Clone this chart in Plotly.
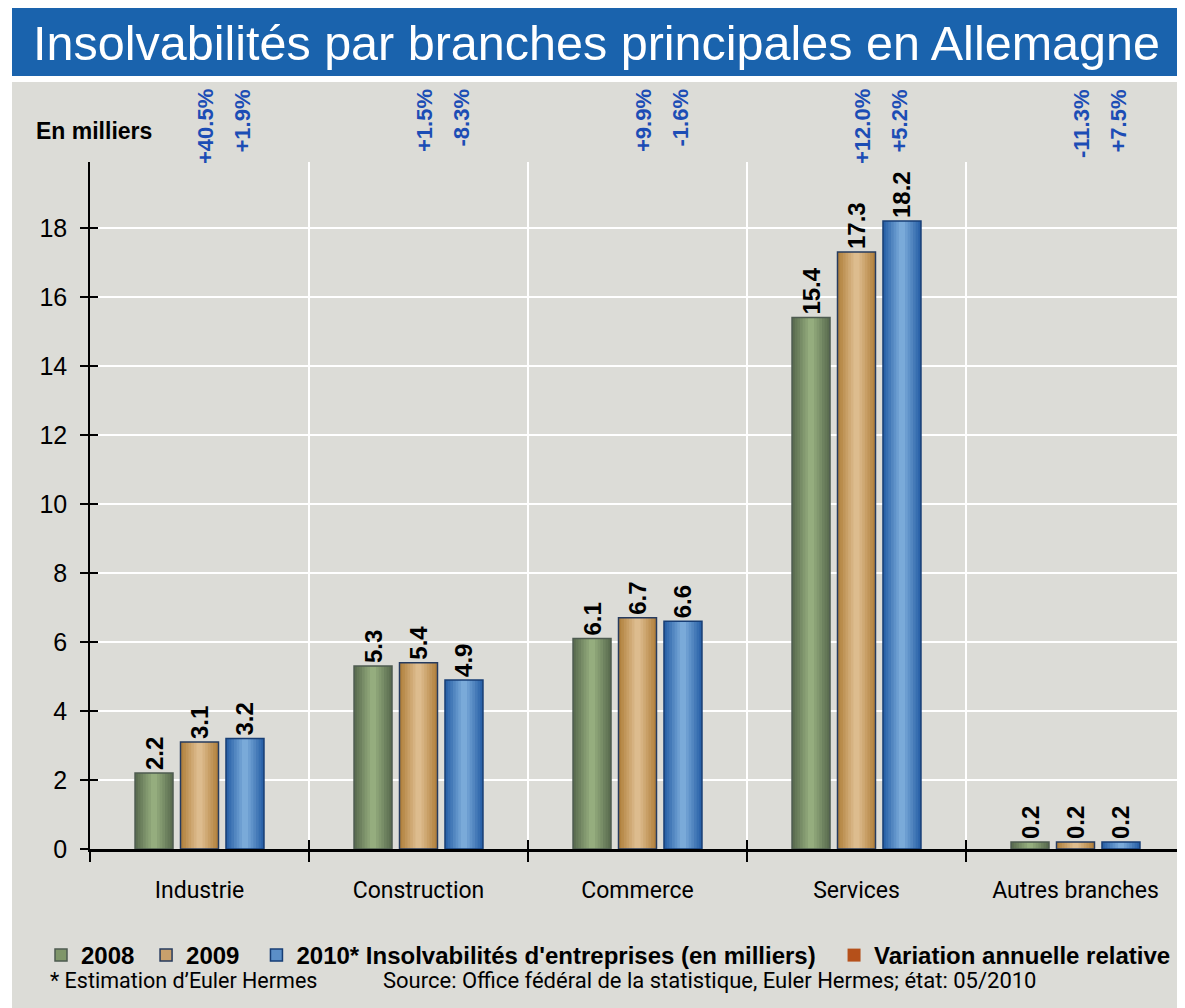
import plotly.graph_objects as go

categories = ["Industrie", "Construction", "Commerce", "Services", "Autres branches"]
years = ["2008", "2009", "2010* Insolvabilités d'entreprises (en milliers)"]
v2008 = [2.2, 5.3, 6.1, 15.4, 0.2]
v2009 = [3.1, 5.4, 6.7, 17.3, 0.2]
v2010 = [3.2, 4.9, 6.6, 18.2, 0.2]
pct2009 = ["+40.5%", "+1.5%", "+9.9%", "+12.0%", "-11.3%"]
pct2010 = ["+1.9%", "-8.3%", "-1.6%", "+5.2%", "+7.5%"]
y_ticks = [0, 2, 4, 6, 8, 10, 12, 14, 16, 18]

OFF = 8  # page body margin
FW, FH = 1185 - OFF, 1008 - OFF
L, R, T, B = 90 - OFF, 1185 - OFF, 162 - OFF, 849 - OFF
W, H = R - L, B - T
def px_x(px):  # page pixel -> paper
    return (px - OFF - L) / W
def px_y(py):
    return (B - (py - OFF)) / H

BG = "#dcdcd7"
mids = ["#7f9669", "#c9a06c", "#5b8fc8"]
edges = ["#5b6d50", "#b2823f", "#2a62a8"]
centers = ["#95ad7e", "#ddbc8e", "#7aaad9"]
lines = ["#4e5b50", "#263b5e", "#173e75"]
ARIAL = "Arial, Liberation Sans, sans-serif"
COND = "Liberation Sans Narrow, Roboto, sans-serif"
Y_RANGE = [0, 19.91]

def hex2rgb(h):
    h = h.lstrip("#")
    return [int(h[i:i + 2], 16) for i in (0, 2, 4)]
def mix(a, b, t):
    ca, cb = hex2rgb(a), hex2rgb(b)
    return "rgb(%d,%d,%d)" % tuple(round(x + (y - x) * t) for x, y in zip(ca, cb))

bargap, bargroupgap = 0.377, 0.165
ncat = len(categories)
slot = W / ncat * (1 - bargap) / 3
bar_w = (1 - bargap) / 3 * (1 - bargroupgap)  # in category units
layer_fracs = [0.86, 0.72, 0.58, 0.44, 0.30, 0.16]

# legend names padded to reproduce the spacing between legend entries
legend_names = [years[0] + "\u00a0", years[1] + "\u2002", years[2] + "\u00a0\u00a0"]

fig = go.Figure()
series = [v2008, v2009, v2010]
for k, name in enumerate(legend_names):
    fig.add_trace(go.Bar(x=[None], y=[None], name=name, offsetgroup=str(k),
                         marker=dict(color=mids[k], line=dict(color=lines[k], width=1.5))))
fig.add_trace(go.Scatter(x=[None], y=[None], mode="markers", name="Variation annuelle relative",
                         marker=dict(symbol="square", size=13, color="#b5501a",
                                     line=dict(width=0))))
for k, vals in enumerate(series):
    fig.add_trace(go.Bar(x=categories, y=vals, offsetgroup=str(k), showlegend=False,
                         hoverinfo="skip", marker=dict(color=edges[k], line=dict(width=0))))
    for j, f in enumerate(layer_fracs):
        t = (j + 1) / len(layer_fracs)
        fig.add_trace(go.Bar(x=categories, y=vals, offsetgroup=str(k), showlegend=False,
                             width=bar_w * f, hoverinfo="skip",
                             marker=dict(color=mix(edges[k], centers[k], t), line=dict(width=0))))
    fig.add_trace(go.Bar(
        x=categories, y=vals, offsetgroup=str(k), showlegend=False,
        marker=dict(color="rgba(0,0,0,0)", line=dict(color=lines[k], width=1.5)),
        text=[f"<b>{v:.1f}</b>" for v in vals], textposition="outside",
        textangle=-90, constraintext="none", cliponaxis=False,
        textfont=dict(family=ARIAL, size=24, color="black"),
    ))
# invisible helper trace so the overlay axes (inner half of the crossing ticks) are drawn
fig.add_trace(go.Scatter(x=categories, y=[Y_RANGE[0]] * ncat, xaxis="x2", yaxis="y2",
                         mode="markers", marker=dict(opacity=0, size=1),
                         showlegend=False, hoverinfo="skip"))

annotations = []
for cat, p9, p10 in zip(categories, pct2009, pct2010):
    for txt, sh in [(p9, 6), (p10, slot - 2)]:
        annotations.append(dict(
            x=cat, xref="x", y=px_y(87), yref="paper", text=f"<b>{txt}</b>", showarrow=False,
            textangle=-90, xanchor="center", yanchor="top", xshift=sh,
            font=dict(family=ARIAL, size=22, color="#1c4db5", weight="bold")))

annotations += [
    dict(x=px_x(31), y=px_y(43), xref="paper", yref="paper", xanchor="left", yanchor="middle",
         text="Insolvabilités par branches principales en Allemagne", showarrow=False,
         font=dict(family=ARIAL, size=48.5, color="white")),
    dict(x=px_x(34), y=px_y(131), xref="paper", yref="paper", xanchor="left", yanchor="middle",
         text="<b>En milliers</b>", showarrow=False,
         font=dict(family=ARIAL, size=23, color="black")),
    dict(x=px_x(48), y=px_y(980), xref="paper", yref="paper", xanchor="left", yanchor="middle",
         text="* Estimation d’Euler Hermes", showarrow=False,
         font=dict(family=COND, size=21.5, color="black")),
    dict(x=px_x(381), y=px_y(980), xref="paper", yref="paper", xanchor="left", yanchor="middle",
         text="Source: Office fédéral de la statistique, Euler Hermes; état: 05/2010", showarrow=False,
         font=dict(family=COND, size=22, color="black")),
]

shapes = [
    dict(type="rect", xref="paper", yref="paper", layer="below",
         x0=px_x(12), x1=px_x(1185), y0=px_y(82), y1=px_y(1008),
         fillcolor=BG, line=dict(width=0)),
    dict(type="rect", xref="paper", yref="paper", layer="below",
         x0=px_x(12), x1=px_x(1185), y0=px_y(7), y1=px_y(76),
         fillcolor="#1a63ad", line=dict(width=0)),
]

fig.update_layout(
    width=FW, height=FH,
    margin=dict(l=L, r=FW - R, t=T, b=FH - B, pad=0),
    paper_bgcolor="white", plot_bgcolor="rgba(0,0,0,0)",
    barmode="group", bargap=bargap, bargroupgap=bargroupgap,
    showlegend=True,
    legend=dict(orientation="h", x=px_x(41), y=px_y(933), xanchor="left", yanchor="top",
                font=dict(family=ARIAL, size=24, color="black", weight="bold"),
                bgcolor="rgba(0,0,0,0)", itemwidth=30, tracegroupgap=0),
    annotations=annotations, shapes=shapes,
    xaxis=dict(type="category", tickson="boundaries", ticks="outside", ticklen=10,
               tickwidth=2, tickcolor="black", showline=True, linecolor="black", linewidth=3,
               showgrid=True, gridcolor="white", gridwidth=2,
               tickfont=dict(family=COND, size=23, color="black"),
               ticklabelstandoff=18, range=[-0.5, 4.5], fixedrange=True),
    yaxis=dict(range=Y_RANGE, tickvals=y_ticks, ticks="outside", ticklen=8,
               tickwidth=1.5, tickcolor="black", showline=True, linecolor="black", linewidth=1.5,
               showgrid=True, gridcolor="white", gridwidth=2, zeroline=False,
               tickfont=dict(family=ARIAL, size=25, color="black"), ticklabelstandoff=8),
    xaxis2=dict(type="category", overlaying="x", side="bottom", tickson="boundaries",
                ticks="inside", ticklen=9, tickwidth=2, tickcolor="black",
                showticklabels=False, showgrid=False, showline=False, zeroline=False,
                range=[-0.5, 4.5], categoryarray=categories, categoryorder="array"),
    yaxis2=dict(overlaying="y", side="left", range=Y_RANGE, tickvals=y_ticks,
                ticks="inside", ticklen=8, tickwidth=1.5, tickcolor="black",
                showticklabels=False, showgrid=False, showline=False, zeroline=False),
)

fig.write_html("out.html")
